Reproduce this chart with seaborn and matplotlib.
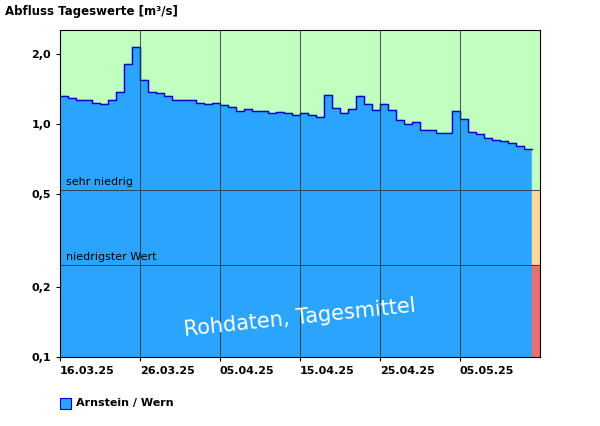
import numpy as np
import pandas as pd
import matplotlib
matplotlib.use("Agg")
import matplotlib.pyplot as plt
import seaborn as sns

values = [1.32,1.29,1.27,1.27,1.23,1.22,1.27,1.37,1.81,2.14,1.54,1.37,1.35,1.31,1.27,1.27,1.27,
          1.23,1.22,1.23,1.21,1.18,1.14,1.16,1.14,1.14,1.11,1.12,1.11,1.09,1.11,1.09,1.07,1.33,
          1.17,1.11,1.16,1.32,1.22,1.15,1.22,1.15,1.04,1.0,1.02,0.94,0.94,0.91,0.91,1.14,1.05,
          0.92,0.90,0.87,0.85,0.845,0.83,0.80,0.78]
tick_days = [0,10,20,30,40,50]
tick_labels = ["16.03.25","26.03.25","05.04.25","15.04.25","25.04.25","05.05.25"]
y_ticks = [0.1,0.2,0.5,1.0,2.0]
y_labels = ["0,1","0,2","0,5","1,0","2,0"]
thr_low, thr_very = 0.248, 0.52
ymin, ymax = 0.1, 2.53
ndays = 60

df = pd.DataFrame({"day": np.arange(len(values)+1), "q": values+[values[-1]]})

fig = plt.figure(figsize=(6,4.26), dpi=100)
ax = fig.add_axes([0.1, 0.162, 0.8, 0.768])
ax.set_yscale("log")
ax.set_xlim(0, ndays); ax.set_ylim(ymin, ymax)
ax.axhspan(thr_very, ymax, color="#c0ffc0", zorder=0)
ax.fill_between(df["day"], ymin, df["q"], step="post", color="#2aa4fc", zorder=1)
sns.lineplot(data=df, x="day", y="q", drawstyle="steps-post", color="#0000c8", lw=1, ax=ax, zorder=2)
x0 = len(values)
ax.fill_between([x0, ndays], thr_very, ymax, color="#c0ffc0", zorder=1)
ax.fill_between([x0, ndays], thr_low, thr_very, color="#ffd8a0", zorder=1)
ax.fill_between([x0, ndays], ymin, thr_low, color="#e87070", zorder=1)
for d in tick_days[1:]:
    ax.axvline(d, color="#333333", lw=0.6, zorder=3)
ax.axhline(thr_very, color="#333333", lw=0.6, zorder=3)
ax.axhline(thr_low, color="#333333", lw=0.6, zorder=3)
ax.text(0.7, thr_very*1.03, "sehr niedrig", fontsize=8, va="bottom", zorder=4)
ax.text(0.7, thr_low*1.03, "niedrigster Wert", fontsize=8, va="bottom", zorder=4)
ax.set_yticks(y_ticks); ax.set_yticklabels(y_labels, fontsize=8, fontweight="bold")
ax.yaxis.set_minor_locator(matplotlib.ticker.NullLocator())
ax.set_xticks(tick_days); ax.set_xticklabels(tick_labels, fontsize=8, fontweight="bold", ha="left")
ax.tick_params(length=3)
ax.set_xlabel(""); ax.set_ylabel("")
ax.text(0.5, 0.12, "Rohdaten, Tagesmittel", transform=ax.transAxes, ha="center", va="center",
        color="white", fontsize=15, rotation=6, zorder=5)
fig.text(5/600, 1-12/426, "Abfluss Tageswerte [m³/s]", fontsize=8.5, fontweight="bold", va="center")
fig.patches.append(matplotlib.patches.Rectangle((60/600, 1-409/426), 11/600, 11/426,
                   transform=fig.transFigure, facecolor="#2aa4fc", edgecolor="#0000c8", lw=0.8))
fig.text(76/600, 1-403/426, "Arnstein / Wern", fontsize=8, fontweight="bold", va="center")
fig.savefig("out.png", dpi=100)
